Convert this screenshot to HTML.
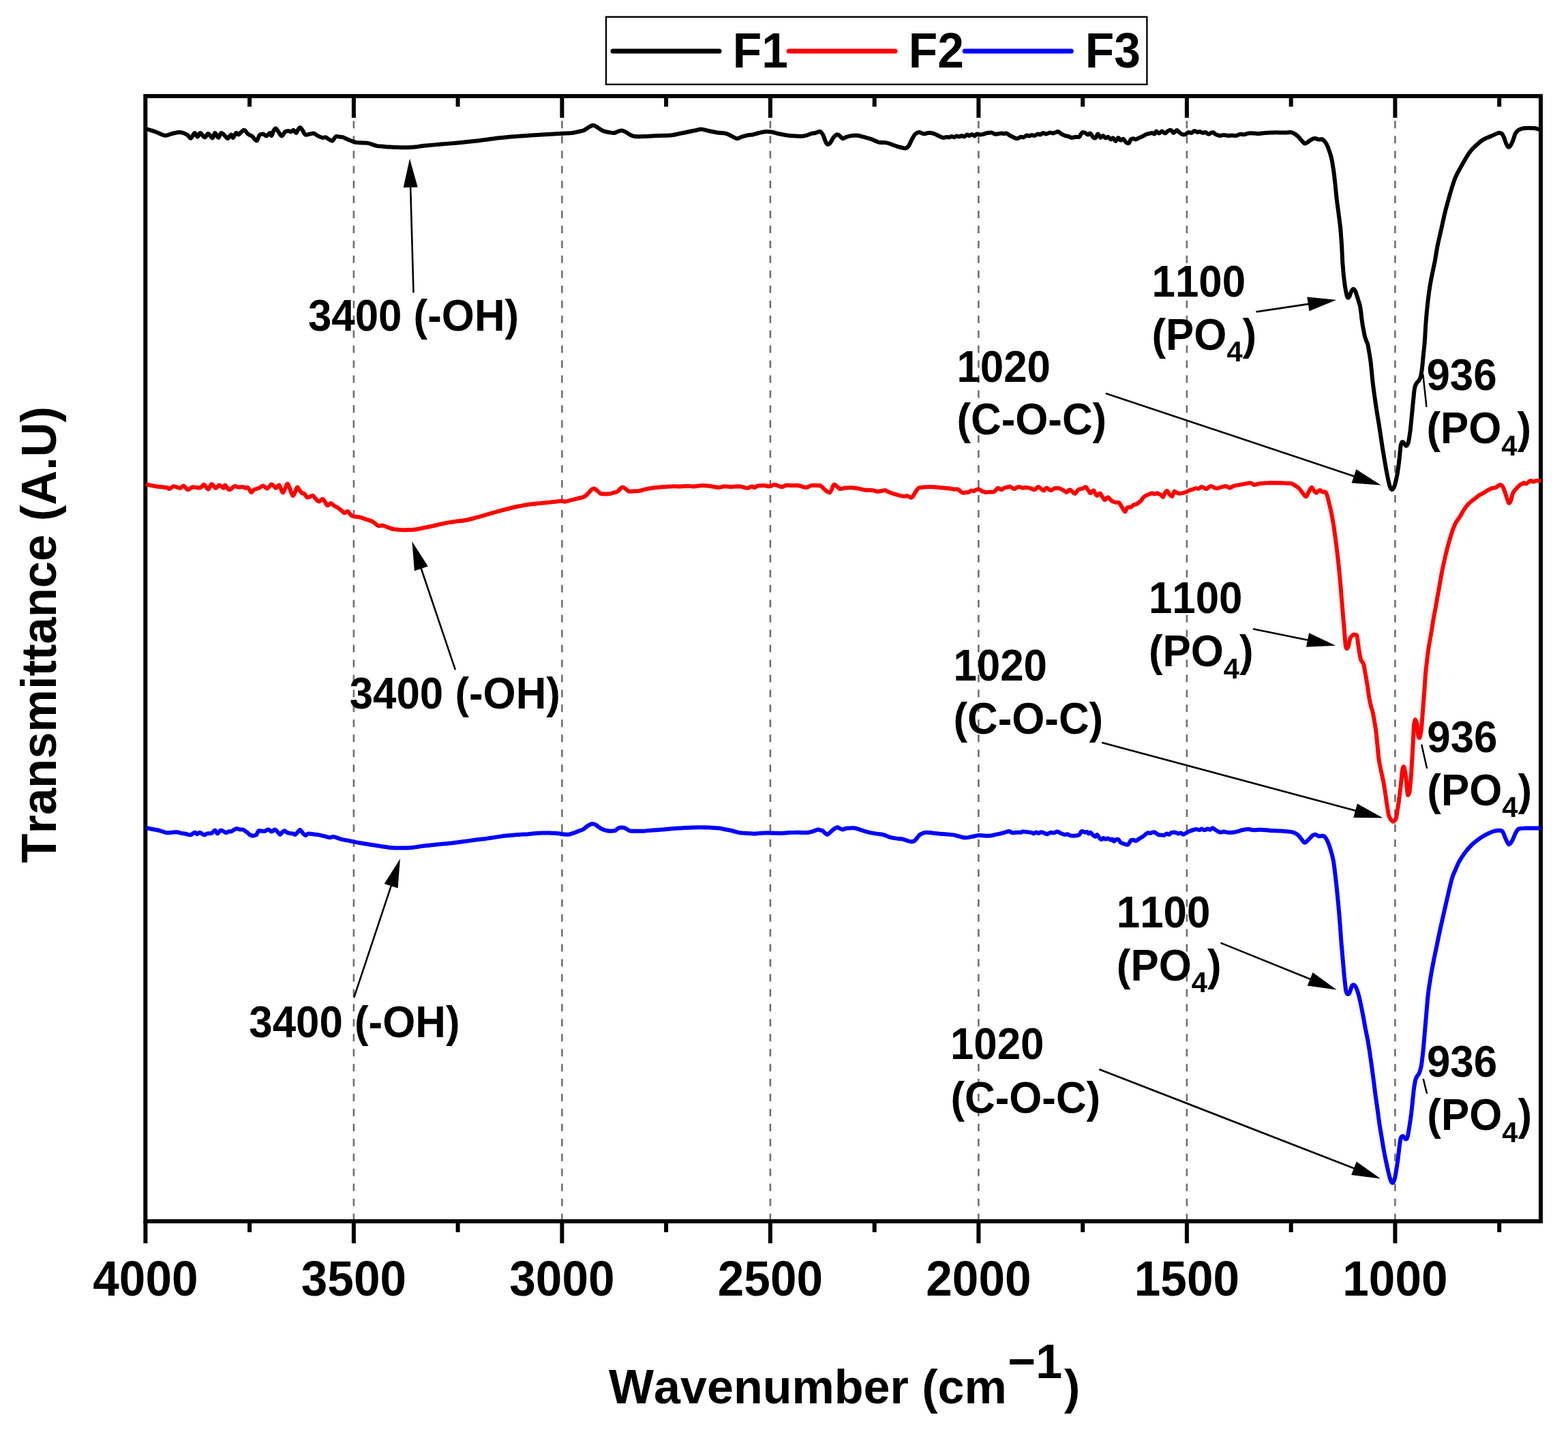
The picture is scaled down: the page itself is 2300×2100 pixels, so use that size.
<!DOCTYPE html>
<html lang="en">
<head>
<meta charset="utf-8">
<title>FTIR spectra F1 F2 F3</title>
<style>
html,body{margin:0;padding:0;background:#fff;}
body{width:2300px;height:2100px;overflow:hidden;}
svg{display:block;}
text{font-family:"Liberation Sans",sans-serif;font-weight:bold;fill:#000;font-kerning:none;font-variant-ligatures:none;}
.tk{font-size:69.3px;text-anchor:middle;}
.an{font-size:61.85px;}
.lg{font-size:69.6px;}
.cv{fill:none;stroke-width:6;stroke-linejoin:round;stroke-linecap:round;}
.gr{stroke:#707070;stroke-width:2.6;stroke-dasharray:11 10.95;fill:none;}
.ax{stroke:#000;stroke-width:6;fill:none;}
</style>
</head>
<body>
<svg width="2300" height="2100" viewBox="0 0 2300 2100">
<rect x="0" y="0" width="2300" height="2100" fill="#fff"/>
<g class="gr">
<line x1="518.9" y1="177.3" x2="518.9" y2="1788"/>
<line x1="824.4" y1="177.3" x2="824.4" y2="1788"/>
<line x1="1129.9" y1="177.3" x2="1129.9" y2="1788"/>
<line x1="1435.4" y1="177.3" x2="1435.4" y2="1788"/>
<line x1="1740.9" y1="177.3" x2="1740.9" y2="1788"/>
<line x1="2046.4" y1="177.3" x2="2046.4" y2="1788"/>
</g>
<g class="ax">
<rect x="213.3" y="140.9" width="2046.7" height="1650.1"/>
<path d="M213.4 1791 V1823.3 M366.1 1791 V1807 M366.1 140.9 V156.4 M518.9 1791 V1823.3 M518.9 140.9 V172.7 M671.6 1791 V1807 M671.6 140.9 V156.4 M824.4 1791 V1823.3 M824.4 140.9 V172.7 M977.1 1791 V1807 M977.1 140.9 V156.4 M1129.9 1791 V1823.3 M1129.9 140.9 V172.7 M1282.7 1791 V1807 M1282.7 140.9 V156.4 M1435.4 1791 V1823.3 M1435.4 140.9 V172.7 M1588.2 1791 V1807 M1588.2 140.9 V156.4 M1740.9 1791 V1823.3 M1740.9 140.9 V172.7 M1893.7 1791 V1807 M1893.7 140.9 V156.4 M2046.4 1791 V1823.3 M2046.4 140.9 V172.7 M2199.2 1791 V1807 M2199.2 140.9 V156.4"/>
</g>
<clipPath id="pc"><rect x="213.3" y="140.9" width="2046.7" height="1650.1"/></clipPath>
<g clip-path="url(#pc)">
<path class="cv" stroke="#000000" d="M216.4 189.5C218.6 190.3 225.5 192.5 229.8 194C234.1 195.5 238.2 198.4 242.2 198.7C246.1 199 249.6 196.5 253.3 195.7C257 194.9 261 193.7 264.5 194C268 194.3 271.8 196 274.4 197.5C277 198.9 278 203.1 279.9 202.7C281.7 202.3 283.9 195.3 285.6 195C287.2 194.6 288.4 200.7 289.8 200.7C291.1 200.7 292 194.9 293.8 195C295.5 195.1 298.5 201.3 300.4 201.4C302.4 201.6 303.5 195.8 305.4 196C307.3 196.1 310 202.6 311.6 202.4C313.3 202.3 313.9 195.1 315.3 195C316.8 194.9 318.8 201.9 320.3 201.9C321.8 201.9 322.9 195.4 324.5 195C326.2 194.6 328.6 198.1 330.2 199.4C331.8 200.8 332.5 203.5 333.9 203.2C335.4 202.8 337.6 197.7 338.9 197.5C340.2 197.3 340.6 202.3 341.9 201.9C343.1 201.5 345 195.7 346.3 195C347.7 194.2 348.7 197.7 350 197.5C351.4 197.2 352.8 194.4 354.3 193.2C355.7 192.1 357.2 190.2 358.7 190.8C360.3 191.3 361.8 194.9 363.7 196.5C365.6 198 367.7 198.3 369.9 199.9C372 201.6 374.8 206.7 376.6 206.4C378.4 206.1 379 199.9 380.6 198.2C382.1 196.6 384.3 196.3 386 196.5C387.7 196.7 389.3 199.7 391 199.4C392.6 199.2 394.7 195.1 395.9 195C397.2 194.9 397.5 199.5 398.4 198.9C399.3 198.4 400.4 193.3 401.4 191.5C402.4 189.7 403.4 187.9 404.6 188.3C405.9 188.7 407.4 192.1 408.8 194C410.3 195.8 411.7 199.6 413.3 199.4C414.9 199.3 416.6 194.5 418.3 193.2C419.9 192 421.8 192 423.2 192C424.7 192 425.7 193.5 426.9 193.2C428.2 193 429.4 190.5 430.7 190.8C431.9 191.1 433.2 195.2 434.4 195C435.5 194.8 436.6 190.8 437.6 189.5C438.6 188.2 439.5 186.6 440.6 187C441.7 187.5 443.1 190.3 444.3 192C445.5 193.7 446.4 196.7 448 197.5C449.7 198.2 452.1 196.8 454.2 196.5C456.3 196.2 458.3 195.2 460.4 195.7C462.5 196.2 464.6 198.4 466.6 199.4C468.7 200.5 471 201.6 472.8 201.9C474.7 202.3 476.1 201 477.8 201.4C479.4 201.8 481.1 203.6 482.7 204.4C484.4 205.2 486 207.1 487.7 206.4C489.4 205.7 491 201.1 492.7 200.2C494.3 199.2 496 200.5 497.6 200.7C499.3 200.8 500.5 200.6 502.6 201.2C504.6 201.8 507.7 203.5 510 204.4C512.3 205.4 514.2 206.1 516.2 206.9C518.3 207.6 519.9 208.5 522.4 208.9C524.9 209.3 528.2 209.2 531.1 209.4C534 209.5 536.3 209.1 539.8 209.9C543.3 210.6 548.5 213 552.2 213.8C555.9 214.7 558.8 214.5 562.1 214.8C565.4 215.1 568.3 215.4 572 215.6C575.7 215.8 579.9 215.9 584.4 216.1C589 216.2 595.2 216.4 599.3 216.3C603.4 216.2 605.5 216 609.2 215.6C612.9 215.2 615.4 214.5 621.6 213.8C627.8 213.2 638.2 212.3 646.4 211.6C654.7 210.9 662.3 210.2 671.2 209.4C680.2 208.5 691.1 207.4 700 206.4C708.9 205.4 716.9 204.1 724.8 203.2C732.7 202.2 738.9 201.4 747.1 200.7C755.4 199.9 765.7 199.3 774.4 198.7C783.1 198.1 790.9 197.7 799.2 197.2C807.5 196.7 817.4 196.1 824 195.7C830.6 195.4 834.8 195.4 838.9 195C843 194.5 845.9 193.6 848.8 193C851.7 192.4 853.8 192.3 856.2 191.3C858.7 190.2 861.4 187.8 863.7 186.5C866 185.3 868 183.9 869.9 183.8C871.8 183.7 872.4 184.4 874.9 185.8C877.3 187.2 881.7 190.6 884.8 192C887.9 193.4 890.8 193.5 893.5 194C896.1 194.5 898.6 195.2 900.9 195C903.2 194.7 905.2 193.1 907.1 192.5C909 191.9 910.4 191.4 912.1 191.5C913.7 191.6 914.3 191.9 917 193.2C919.7 194.6 924.7 198.3 928.2 199.4C931.7 200.6 934.8 200.1 938.1 200.2C941.4 200.3 943.1 200.1 948 199.9C953 199.7 961.7 199.2 967.9 198.9C974.1 198.7 980.3 198.7 985.2 198.2C990.2 197.7 993.5 196.6 997.6 195.7C1001.8 194.9 1006.3 194 1010 193.2C1013.7 192.5 1016.8 191.9 1019.9 191.3C1023 190.6 1025.3 189.4 1028.6 189.5C1031.9 189.6 1035.9 191.2 1039.8 192C1043.7 192.8 1048 193.9 1052.2 194.5C1056.3 195.1 1061.3 195 1064.6 195.7C1067.9 196.5 1069.3 197.7 1072 198.9C1074.7 200.2 1078 202.9 1080.7 203.2C1083.4 203.5 1085.5 201.5 1088.1 200.7C1090.8 199.9 1094.1 198.7 1096.8 198.2C1099.5 197.7 1101.6 198 1104.3 197.5C1107 196.9 1110.1 195.7 1112.9 195C1115.8 194.3 1118.5 193.5 1121.6 193.2C1124.7 193 1127.8 193 1131.5 193.5C1135.3 194 1139.4 195.6 1143.9 196.5C1148.5 197.4 1153 198.5 1158.8 198.9C1164.6 199.4 1173.3 200 1178.7 199.4C1184 198.9 1188.2 196.5 1191.1 195.7C1194 195 1194.4 195.4 1196 195C1197.6 194.6 1199.2 193.7 1200.5 193.4C1201.8 193.1 1202.6 192.4 1203.7 193.2C1204.9 194 1206.2 195.7 1207.4 198.2C1208.7 200.7 1210 205.9 1211.2 208.1C1212.3 210.4 1213.3 211.6 1214.4 211.8C1215.5 212.1 1216.5 211 1217.9 209.4C1219.2 207.7 1221 203.8 1222.3 201.9C1223.7 200.1 1224.9 198.9 1226 198.2C1227.2 197.5 1228.1 197.1 1229.3 197.5C1230.4 197.8 1231.6 199.2 1232.7 200.2C1233.9 201.1 1234.4 203.1 1236 203.2C1237.5 203.2 1239.9 201.4 1242.2 200.7C1244.4 200 1246.9 199.3 1249.6 198.9C1252.3 198.6 1255.4 198.4 1258.3 198.7C1261.2 199 1263.9 200.1 1267 200.9C1270.1 201.8 1273.2 202.4 1276.9 203.7C1280.6 204.9 1285.4 207.7 1289.3 208.6C1293.2 209.6 1297.1 208.7 1300.4 209.4C1303.8 210 1306.4 211.4 1309.1 212.3C1311.8 213.3 1314.1 214.1 1316.6 214.8C1319 215.6 1322 216.4 1324 216.8C1326 217.2 1327 217.7 1328.5 217.3C1329.9 216.9 1331.2 216.5 1332.7 214.3C1334.2 212.2 1336 207.4 1337.6 204.4C1339.3 201.4 1340.9 198.2 1342.6 196.5C1344.3 194.7 1346.4 194.2 1348.1 194C1349.7 193.8 1351.2 195.1 1352.5 195.5C1353.9 195.8 1354.8 196.3 1356.2 196.2C1357.7 196.1 1359.6 195.2 1361.2 195C1362.9 194.8 1364.5 194.7 1366.2 195C1367.8 195.2 1369.3 195.7 1371.1 196.5C1373 197.2 1375.3 198.5 1377.3 199.4C1379.4 200.4 1381.7 201.7 1383.5 201.9C1385.4 202.2 1387 201 1388.5 200.9C1389.9 200.8 1391 201.6 1392.2 201.4C1393.5 201.3 1394.7 200 1395.9 199.9C1397.2 199.9 1398.4 201.3 1399.7 201.2C1400.9 201.1 1402.1 199.6 1403.4 199.4C1404.6 199.3 1405.9 200.5 1407.1 200.4C1408.3 200.4 1409.6 198.9 1410.8 198.9C1412.1 198.9 1413.3 200.7 1414.5 200.4C1415.8 200.2 1417 197.7 1418.3 197.5C1419.5 197.2 1420.7 199 1422 198.9C1423.2 198.9 1424.5 196.9 1425.7 197C1426.9 197 1428.2 199.5 1429.4 199.4C1430.7 199.4 1431.7 196.8 1433.1 196.5C1434.6 196.1 1436.4 197.5 1438.1 197.5C1439.7 197.5 1441.4 196.9 1443.1 196.5C1444.7 196.1 1446.2 195.3 1448 195C1449.9 194.6 1452.4 194.2 1454.2 194.5C1456.1 194.7 1457.7 196.1 1459.2 196.5C1460.6 196.8 1461.5 196.6 1462.9 196.5C1464.3 196.3 1466.2 195.6 1467.9 195.5C1469.5 195.4 1471.4 196 1472.8 196C1474.3 196 1475.1 195 1476.5 195.5C1478 196 1479.6 197.9 1481.5 198.9C1483.4 200 1485.8 201.2 1487.7 201.9C1489.6 202.6 1491 203.4 1492.7 203.2C1494.3 203 1496.2 201 1497.6 200.7C1499.1 200.4 1499.9 201.8 1501.3 201.4C1502.8 201.1 1504.9 198.8 1506.3 198.5C1507.7 198.1 1508.8 199.5 1510 199.4C1511.3 199.4 1512.5 198 1513.7 198C1515 197.9 1516 199.2 1517.5 198.9C1518.9 198.7 1521 196.7 1522.4 196.5C1523.9 196.2 1524.9 197.7 1526.1 197.5C1527.4 197.2 1528.4 195.1 1529.9 195C1531.3 194.8 1533.2 196.6 1534.8 196.5C1536.5 196.4 1538.1 194.6 1539.8 194.5C1541.4 194.3 1543.3 195.6 1544.7 195.5C1546.2 195.4 1547.2 194.4 1548.5 194C1549.7 193.6 1550.7 192.8 1552.2 193.2C1553.6 193.7 1555.5 195.5 1557.1 196.5C1558.8 197.4 1560.4 198.4 1562.1 198.9C1563.8 199.5 1565.4 199.4 1567.1 199.9C1568.7 200.4 1570.4 201.8 1572 201.9C1573.7 202.1 1575.1 201.1 1577 200.9C1578.8 200.7 1581.7 201.4 1583.2 200.7C1584.6 199.9 1584.8 197.6 1585.7 196.5C1586.5 195.4 1587.1 194.2 1588.1 194C1589.2 193.7 1590.6 194.4 1591.9 195C1593.1 195.6 1594.3 197.4 1595.6 197.5C1596.8 197.5 1598.1 194.9 1599.3 195.5C1600.5 196 1601.8 199.5 1603 200.7C1604.3 201.8 1605.5 203.1 1606.7 202.4C1608 201.7 1609.2 196.6 1610.5 196.5C1611.7 196.4 1612.9 201.5 1614.2 201.9C1615.4 202.3 1616.7 198.9 1617.9 198.9C1619.1 199 1620.4 202.1 1621.6 202.4C1622.9 202.7 1624.1 200.4 1625.3 200.7C1626.6 201 1627.8 204.1 1629.1 204.4C1630.3 204.7 1631.5 202 1632.8 202.4C1634 202.8 1635.3 207 1636.5 206.9C1637.7 206.8 1639 202.1 1640.2 201.9C1641.5 201.7 1642.7 205.3 1643.9 205.6C1645.2 206 1646.3 203.4 1647.7 203.9C1649 204.4 1650.5 207.9 1651.9 208.9C1653.2 209.9 1654.7 210.6 1655.9 209.9C1657 209.1 1657.7 205.5 1658.8 204.4C1659.9 203.3 1661.3 203.2 1662.5 203.2C1663.8 203.2 1664.8 204.6 1666.3 204.4C1667.7 204.2 1669.6 202.7 1671.2 201.9C1672.9 201.2 1674.5 200.8 1676.2 199.9C1677.8 199.1 1679.5 197.7 1681.2 197C1682.8 196.3 1684.7 196.1 1686.1 195.7C1687.6 195.4 1688.6 194.9 1689.8 195C1691.1 195.1 1692.5 196.9 1693.6 196.5C1694.6 196.1 1695 192.7 1696 192.5C1697.1 192.3 1698.6 195.5 1700 195.5C1701.4 195.5 1703 192.5 1704.5 192.5C1706 192.5 1707.4 195.6 1708.9 195.5C1710.4 195.4 1711.9 192.6 1713.4 191.9C1714.9 191.2 1716.5 190.5 1717.9 191C1719.2 191.5 1720 194.9 1721.4 194.9C1722.8 194.9 1724.8 191.2 1726.2 191C1727.6 190.9 1728.4 193 1729.8 194C1731.1 195 1732.7 196.5 1734.2 197C1735.7 197.5 1737.2 197.5 1738.7 197C1740.2 196.5 1741.7 194.3 1743.2 194C1744.6 193.6 1746.1 195.2 1747.6 194.9C1749.1 194.5 1750.6 192.1 1752.1 191.9C1753.6 191.8 1755.3 193.8 1756.5 194C1757.8 194.2 1758.3 192.9 1759.5 193.1C1760.8 193.2 1762.5 194.7 1764 194.9C1765.5 195 1767 193.7 1768.5 194C1769.9 194.3 1771.2 196.7 1772.9 196.7C1774.7 196.7 1777.1 193.9 1778.9 194C1780.6 194 1781.6 196.1 1783.3 197C1785.1 197.8 1787.3 198.9 1789.3 199C1791.3 199.2 1793.3 197.9 1795.2 197.9C1797.2 197.9 1799.2 198.9 1801.2 199C1803.2 199.1 1805.2 198.5 1807.1 198.5C1809.1 198.5 1811.1 199.3 1813.1 199C1815.1 198.8 1817.1 197 1819 196.7C1821 196.4 1823 197.5 1825 197.3C1827 197.1 1828.5 195.8 1831 195.5C1833.4 195.2 1837.4 195.4 1839.9 195.5C1842.4 195.6 1843.4 196.2 1845.8 196.1C1848.3 196 1851.8 195.1 1854.8 194.9C1857.7 194.6 1860.7 194.7 1863.7 194.6C1866.7 194.5 1869.6 194.3 1872.6 194.3C1875.6 194.3 1878.8 194.6 1881.5 194.6C1884.3 194.6 1887 194.4 1889 194.3C1891 194.2 1891.8 193.7 1893.5 194C1895.1 194.3 1897.1 195.1 1898.8 196.1C1900.5 197.1 1902.3 198.5 1903.9 199.9C1905.5 201.4 1906.7 203.3 1908.3 205C1910 206.7 1912.1 209.8 1913.7 210.4C1915.3 211 1916.5 209.3 1917.9 208.6C1919.2 207.8 1920.4 206.7 1921.7 205.9C1923 205 1924.4 204 1925.6 203.5C1926.8 203 1927.8 202.8 1929.2 202.9C1930.5 203.1 1932.2 204.2 1933.6 204.4C1935 204.7 1936.7 204.5 1937.5 204.4C1938.3 204.3 1938 203.7 1938.7 204C1939.4 204.2 1940.8 205 1941.8 206C1942.9 207 1944 208.5 1945 210C1945.9 211.5 1946.7 213.3 1947.5 215C1948.2 216.6 1948.6 217.9 1949.3 220C1950.1 222 1951.1 225 1951.8 227.5C1952.6 230 1953.1 232 1953.7 235C1954.3 237.9 1954.8 241.6 1955.3 244.9C1955.8 248.3 1956.3 250.8 1956.8 254.9C1957.3 259.1 1957.9 264.9 1958.5 269.9C1959 274.9 1959.5 280.3 1960 284.9C1960.4 289.5 1960.9 293.3 1961.4 297.4C1962 301.6 1962.5 305.7 1963.1 309.9C1963.6 314.1 1964.2 318.2 1964.7 322.4C1965.2 326.6 1965.8 330.7 1966.2 334.9C1966.6 339.1 1966.9 343.2 1967.2 347.4C1967.5 351.5 1967.8 355.7 1968.1 359.9C1968.3 364 1968.5 368.2 1968.7 372.4C1968.9 376.5 1968.9 379.6 1969.3 384.9C1969.7 390.1 1970.5 399.3 1970.9 403.7C1971.4 408.1 1971.5 408.5 1971.8 411.2C1972.2 413.9 1972.5 417.2 1972.9 419.9C1973.4 422.7 1973.9 425.1 1974.3 427.4C1974.8 429.7 1975.2 432.2 1975.7 433.7C1976.2 435.2 1976.8 436.4 1977.4 436.6C1978 436.8 1978.7 436 1979.3 434.9C1979.9 433.8 1980.6 431.5 1981.2 429.9C1981.8 428.4 1982.3 426.6 1983.1 425.6C1983.8 424.6 1984.7 423.7 1985.6 423.9C1986.4 424.1 1987.1 424.8 1988.1 426.8C1989 428.9 1990.3 433.6 1991.2 436.2C1992 438.8 1992.4 440.3 1993.1 442.4C1993.7 444.5 1994.4 446 1994.9 448.7C1995.5 451.4 1996 455.5 1996.4 458.7C1996.8 461.8 1997 464.3 1997.4 467.4C1997.8 470.5 1998.4 474.3 1998.9 477.4C1999.4 480.5 2000.1 483.7 2000.5 486.2C2001 488.7 2001.4 490.6 2001.8 492.4C2002.2 494.2 2002.6 495.3 2003 496.8C2003.5 498.2 2004.2 499.8 2004.7 501.1C2005.2 502.5 2005.7 503.2 2006.2 504.9C2006.6 506.6 2006.7 506.7 2007.4 511.1C2008.2 515.5 2009.5 522.7 2010.6 531.2C2011.6 539.8 2012.6 552.1 2013.8 562.5C2015.1 572.9 2016.5 583.3 2018.1 593.7C2019.6 604.1 2021.4 614.5 2023.1 624.9C2024.7 635.3 2026.2 645.7 2027.8 656.2C2029.5 666.6 2031.6 679.1 2033.1 687.4C2034.6 695.7 2035.8 701.5 2036.8 706.1C2037.9 710.7 2038.5 712.9 2039.3 714.9C2040.1 716.8 2041 717.9 2041.8 718C2042.6 718.1 2043.5 716.8 2044.3 715.5C2045.1 714.1 2045.7 712.3 2046.4 709.9C2047.1 707.5 2047.8 703.8 2048.4 701.1C2049 698.4 2049.3 698 2049.9 693.6C2050.6 689.3 2051.7 681.1 2052.4 674.9C2053.2 668.6 2053.8 660.3 2054.3 656.2C2054.8 652 2055 651.3 2055.6 649.9C2056.1 648.6 2056.7 647.9 2057.4 648C2058.2 648.1 2059.2 649.6 2059.9 650.5C2060.7 651.4 2061.3 652.9 2061.8 653.4C2062.3 653.9 2062.6 653.9 2063 653.7C2063.5 653.4 2064.2 652.8 2064.7 651.8C2065.2 650.7 2065.5 650.8 2066.2 647.4C2066.8 644 2067.8 638 2068.7 631.2C2069.5 624.3 2070.4 613.5 2071.2 606.2C2071.9 598.9 2072.4 593.5 2073 587.4C2073.7 581.4 2074.2 574.1 2074.9 570C2075.6 565.8 2076.3 564.5 2077.4 562.5C2078.6 560.4 2080.7 559 2081.8 557.5C2082.8 555.9 2083.1 554.8 2083.7 553.1C2084.2 551.4 2084.5 550.3 2084.9 547.5C2085.4 544.7 2086 540 2086.4 536.2C2086.8 532.5 2087 528.9 2087.4 525C2087.8 521 2088.2 516.7 2088.7 512.5C2089.1 508.3 2089.3 508.3 2089.9 500C2090.5 491.7 2091.1 475.7 2092.4 462.4C2093.6 449.1 2095.4 432.8 2097.4 419.9C2099.4 407 2102.8 392.8 2104.4 384.9C2105.9 376.9 2105.8 376.5 2106.5 372.4C2107.2 368.2 2107.9 364 2108.7 359.9C2109.6 355.7 2110.5 351.5 2111.5 347.4C2112.4 343.2 2113.4 339.1 2114.4 334.9C2115.3 330.7 2116.2 326.6 2117.1 322.4C2118 318.2 2118.9 314.1 2120 309.9C2121 305.7 2122.2 301.6 2123.3 297.4C2124.5 293.3 2125.6 289.1 2126.8 284.9C2128.1 280.8 2129.2 276.6 2130.6 272.4C2131.9 268.3 2133.3 263.8 2135 259.9C2136.6 256 2137.1 255.1 2140.5 249C2143.9 243 2151.1 229.8 2155.4 223.8C2159.6 217.7 2162.3 216 2165.8 212.7C2169.2 209.5 2172.5 206.6 2176.2 204.4C2179.9 202.2 2184.7 200.8 2188.1 199.3C2191.5 197.9 2194.4 196.2 2196.4 195.5C2198.4 194.7 2198.9 194.8 2200 194.9C2201.1 195 2202 195 2203 196.1C2204 197.2 2204.9 198.9 2206 201.4C2207 203.9 2208.4 208.6 2209.5 211C2210.6 213.3 2211.5 215.3 2212.5 215.7C2213.5 216.1 2214.6 215 2215.8 213.3C2216.9 211.7 2218.3 208.6 2219.3 205.9C2220.4 203.2 2221.3 199.2 2222.3 197C2223.3 194.7 2224.1 193.7 2225.3 192.5C2226.5 191.3 2228 190.3 2229.8 189.5C2231.5 188.8 2233.5 188.3 2235.7 188C2237.9 187.7 2240.7 187.7 2243.2 187.7C2245.6 187.7 2248.4 187.7 2250.6 188C2252.8 188.3 2255.1 189 2256.5 189.5C2258 190 2259 190.8 2259.5 191"/>
<path class="cv" stroke="#ff0000" d="M216.4 710.8C217.8 711.1 222.2 712 224.8 712.5C227.4 713 228.9 713.3 232.2 713.7C235.5 714.2 242 714.4 244.6 715C247.3 715.5 246.7 717.3 248.4 717C250 716.7 252.7 713.7 254.6 713.2C256.4 712.8 257.9 714.1 259.5 714.5C261.2 714.9 262.8 716.1 264.5 715.7C266.1 715.4 267.6 712.1 269.4 712.5C271.3 712.9 273.6 717.9 275.6 718.2C277.7 718.5 279.8 715 281.8 714.5C283.9 713.9 286 714.9 288 715C290.1 715.1 292.4 715.7 294.2 715C296.1 714.3 297.3 710.4 299.2 710.8C301.1 711.2 303.5 717.6 305.4 717.5C307.3 717.3 308.5 710.3 310.4 710C312.2 709.7 314.7 715.5 316.6 715.7C318.4 716 319.7 711.5 321.5 711.5C323.4 711.5 326.3 715.7 327.7 715.7C329.2 715.7 328.8 711.1 330.2 711.5C331.7 711.9 334.1 717.9 336.4 718.2C338.7 718.5 341.6 713.9 343.8 713.2C346.1 712.6 348 714.4 350 714.5C352.1 714.6 354.6 713.8 356.2 714C357.9 714.2 358.7 715.6 360 715.7C361.2 715.9 362.2 713.9 363.7 715C365.1 716 367.2 721.4 368.7 721.9C370.1 722.5 371.1 719 372.4 718.2C373.6 717.4 374.6 717.5 376.1 717C377.5 716.4 379.4 715.7 381.1 715C382.7 714.2 384.2 712.3 386 712.5C387.9 712.7 390.1 716.8 392.2 716.5C394.3 716.1 396.3 710.4 398.4 710.3C400.5 710.1 402.8 715.5 404.6 715.7C406.5 715.9 407.8 710.4 409.6 711.5C411.4 712.6 413.2 722.8 415.3 722.4C417.3 722.1 419.6 708.8 422 709.5C424.3 710.3 427.1 726 429.4 726.9C431.7 727.8 434 716.3 435.6 715C437.3 713.7 438.1 717.6 439.3 718.9C440.6 720.3 441.8 722.3 443.1 723.2C444.3 724.1 445.5 723.4 446.8 724.4C448 725.4 449 728.7 450.5 729.4C451.9 730 454 728.5 455.5 728.1C456.9 727.7 457.9 726.3 459.2 726.9C460.5 727.5 461.9 730.4 463.4 731.8C464.8 733.3 466.3 735.6 467.9 735.6C469.4 735.6 471.4 731.8 472.8 731.8C474.3 731.8 475.3 734 476.5 735.6C477.8 737.1 478.8 740.9 480.3 741.3C481.7 741.7 483.6 738 485.2 738C486.9 738.1 488.5 740.7 490.2 741.8C491.8 742.8 493.5 743.2 495.1 744.2C496.8 745.3 498.4 746.6 500.1 748C501.8 749.3 503.4 751.9 505.1 752.2C506.7 752.5 508.6 749.4 510 749.7C511.5 750 512.5 752.9 513.7 754.2C515 755.4 515.8 756.5 517.5 757.1C519.1 757.8 521.6 757.6 523.7 757.9C525.7 758.2 527.4 758.4 529.9 759.1C532.3 759.8 535.6 761.1 538.5 762.1C541.4 763.1 544.5 763.8 547.2 765.3C549.9 766.8 552.6 770.2 554.7 771C556.7 771.9 558 770.5 559.6 770.5C561.3 770.6 562.7 770.9 564.6 771.5C566.4 772.1 568.7 773.3 570.8 774C572.9 774.8 574.7 775.5 577 776C579.3 776.4 581.9 776.5 584.4 776.7C586.9 776.9 589.2 777.2 591.9 777.2C594.6 777.3 597.7 777.1 600.5 777C603.4 776.9 605.7 777 609.2 776.5C612.7 776 617.5 774.8 621.6 774C625.8 773.2 629.9 772.4 634 771.5C638.2 770.6 642.3 769.5 646.4 768.6C650.6 767.6 654.7 766.8 658.8 766.1C663 765.4 667.1 764.9 671.2 764.3C675.4 763.8 678.8 763.8 683.6 762.8C688.4 761.9 695.2 759.9 700 758.6C704.8 757.3 708.3 756.3 712.4 755.2C716.5 754 720.7 752.8 724.8 751.7C728.9 750.5 733.1 749.3 737.2 748.2C741.3 747.1 745.5 746 749.6 745C753.7 744 757.9 743.1 762 742.3C766.1 741.4 770.3 740.6 774.4 740C778.5 739.4 782.7 739 786.8 738.5C790.9 738.1 795.1 737.7 799.2 737.3C803.3 736.9 807.5 736.5 811.6 736.1C815.7 735.6 821.1 734.9 824 734.8C826.9 734.7 826.5 735.9 829 735.6C831.4 735.3 835.6 733.9 838.9 733.1C842.2 732.3 845.7 731.4 848.8 730.6C851.9 729.8 855 729.5 857.5 728.1C860 726.8 862 724.1 863.7 722.4C865.3 720.8 866.3 719.2 867.4 718.2C868.6 717.2 869.6 716.6 870.6 716.5C871.7 716.3 872.5 716.8 873.6 717.5C874.7 718.2 876.1 719.6 877.3 720.7C878.6 721.8 879.2 723.3 881.1 723.9C882.9 724.5 886 724.4 888.5 724.4C891 724.4 893.9 724.2 895.9 723.9C898 723.6 899.2 723 900.9 722.4C902.5 721.9 904.4 721.6 905.9 720.7C907.3 719.8 908.3 718 909.6 717C910.8 715.9 912.1 714.6 913.3 714.5C914.5 714.4 915.8 715.6 917 716.5C918.3 717.3 919.7 718.7 920.7 719.4C921.8 720.1 921.6 720.6 923.2 720.7C924.9 720.8 928.2 720.3 930.7 720.2C933.1 720.1 935.6 720.4 938.1 719.9C940.6 719.5 943.1 718.3 945.5 717.7C948 717.1 949.3 716.8 953 716.2C956.7 715.7 962.5 715 967.9 714.5C973.2 714 980.3 713.4 985.2 713.2C990.2 713.1 993.5 713.6 997.6 713.5C1001.8 713.4 1006.7 712.7 1010 712.7C1013.3 712.7 1014.2 713.6 1017.5 713.5C1020.8 713.4 1025.7 712.1 1029.9 712C1034 711.9 1038.1 712.5 1042.3 713C1046.4 713.5 1051.4 714.9 1054.7 715C1058 715 1059.2 713.4 1062.1 713.2C1065 713.1 1068.3 714 1072 714C1075.7 714 1081.3 713.2 1084.4 713.2C1087.5 713.3 1088.6 714.1 1090.6 714.5C1092.7 714.9 1094.8 715.9 1096.8 715.7C1098.9 715.5 1101.4 713.4 1103 713.2C1104.7 713.1 1105.3 715.1 1106.7 715C1108.2 714.9 1109.2 713 1111.7 712.5C1114.2 712 1119.1 711.9 1121.6 712C1124.1 712.1 1124.9 713.2 1126.6 713.2C1128.2 713.3 1129.9 712.9 1131.5 712.5C1133.2 712.1 1134 710.5 1136.5 710.8C1139 711 1143.5 713.9 1146.4 714C1149.3 714.1 1151.2 711.8 1153.9 711.5C1156.6 711.2 1159.7 711.9 1162.5 712C1165.4 712.1 1167.9 711.5 1171.2 712C1174.5 712.5 1179.3 715 1182.4 715C1185.5 715 1186.9 712.5 1189.8 712C1192.8 711.5 1197.7 711.9 1200 712C1202.3 712.1 1202.5 711.9 1203.7 712.5C1205 713.1 1206 714.4 1207.4 715.7C1208.9 717 1210.8 719.1 1212.4 720.2C1214 721.3 1215.6 722.8 1216.9 722.4C1218.1 722.1 1218.9 719.9 1219.8 718.2C1220.8 716.5 1221.5 713.2 1222.3 712C1223.1 710.8 1223.8 710.4 1224.8 710.8C1225.8 711.1 1227.3 713 1228.5 714C1229.8 715 1230.4 716.7 1232.2 717C1234.1 717.2 1236.8 715.8 1239.7 715.5C1242.6 715.2 1246.3 715.1 1249.6 715.2C1252.9 715.4 1256.2 715.9 1259.5 716.5C1262.8 717 1266.1 718.3 1269.4 718.7C1272.8 719.1 1276.5 718.6 1279.4 718.9C1282.3 719.3 1284.5 720.5 1286.8 720.7C1289.1 720.8 1291.1 720.2 1293 719.9C1294.9 719.7 1296.5 718.8 1298 718.9C1299.4 719.1 1300.2 720.1 1301.7 720.7C1303.1 721.3 1304.4 721.9 1306.6 722.7C1308.9 723.5 1312.4 724.6 1315.3 725.4C1318.2 726.2 1321.3 727.3 1324 727.6C1326.7 728 1329.4 727 1331.4 727.4C1333.5 727.8 1335.1 729.9 1336.4 729.9C1337.7 729.9 1338.4 728.7 1339.4 727.4C1340.4 726.1 1341.5 723.6 1342.6 721.9C1343.7 720.3 1344.8 718.6 1345.8 717.5C1346.9 716.3 1347.3 715.7 1348.8 715.2C1350.3 714.7 1352.9 714.7 1355 714.5C1357.1 714.3 1358.5 714 1361.2 714C1363.9 713.9 1367.8 714 1371.1 714.2C1374.4 714.4 1377.5 714.9 1381.1 715.2C1384.6 715.6 1389.3 715.8 1392.2 716.2C1395.1 716.6 1396.3 717.3 1398.4 717.5C1400.5 717.7 1403 717 1404.6 717.5C1406.3 717.9 1407.1 719.1 1408.3 719.9C1409.6 720.8 1410.6 722.3 1412.1 722.7C1413.5 723 1415.6 722 1417 721.9C1418.5 721.8 1419.5 722.3 1420.7 721.9C1422 721.5 1423.2 719.7 1424.5 719.4C1425.7 719.2 1426.9 720.6 1428.2 720.4C1429.4 720.2 1430.7 718.7 1431.9 718.2C1433.1 717.7 1434.2 717.1 1435.6 717.5C1437.1 717.8 1438.9 719.4 1440.6 720.2C1442.2 720.9 1443.7 721.7 1445.5 721.9C1447.4 722.1 1449.7 721.6 1451.7 721.4C1453.8 721.3 1456.3 721.8 1457.9 721.2C1459.6 720.5 1460.6 718.4 1461.7 717.5C1462.7 716.6 1462.9 715.6 1464.1 715.7C1465.4 715.8 1467.7 718.2 1469.1 718.2C1470.5 718.2 1471.4 716.3 1472.8 715.7C1474.3 715.1 1476.3 714.8 1477.8 714.5C1479.2 714.2 1479.8 713.3 1481.5 713.7C1483.2 714.2 1486 716.8 1487.7 717C1489.4 717.2 1490.2 715.5 1491.4 715C1492.7 714.5 1493.7 713.9 1495.1 714C1496.6 714.1 1498.4 715.3 1500.1 715.5C1501.8 715.6 1503.2 714.9 1505.1 715C1506.9 715.1 1509.2 715.4 1511.3 716C1513.3 716.5 1515.8 718.4 1517.5 718.2C1519.1 718 1520.1 715.7 1521.2 715C1522.2 714.3 1522.6 713.7 1523.7 714C1524.7 714.3 1526.1 716.1 1527.4 717C1528.6 717.9 1530.1 719.5 1531.1 719.4C1532.1 719.4 1532.8 717.1 1533.6 716.5C1534.4 715.8 1535.1 715.4 1536.1 715.7C1537 716 1538.3 717.7 1539.3 718.2C1540.3 718.7 1541.1 719.2 1542.3 718.9C1543.4 718.7 1544.7 717 1546 716.5C1547.2 715.9 1548.3 715.7 1549.7 715.7C1551.1 715.7 1553 715.9 1554.7 716.5C1556.3 717 1558 718 1559.6 718.9C1561.3 719.9 1563.3 721.8 1564.6 721.9C1565.8 722 1566.2 720.1 1567.1 719.4C1567.9 718.8 1568.5 717.9 1569.5 718.2C1570.6 718.5 1572 720.5 1573.3 721.4C1574.5 722.4 1575.9 724.2 1577 723.9C1578.1 723.7 1578.9 721 1580 719.9C1581 718.9 1581.8 718 1583.2 717.5C1584.5 716.9 1586.6 717 1588.1 716.5C1589.7 715.9 1591.3 713.6 1592.6 714C1593.9 714.4 1595 717.4 1596.1 718.9C1597.2 720.5 1598.4 722.9 1599.3 723.2C1600.3 723.5 1601 721.3 1601.8 720.7C1602.6 720.1 1603.4 718.9 1604.3 719.4C1605.1 720 1605.9 722.7 1606.7 723.9C1607.6 725.1 1608.4 726.8 1609.2 726.9C1610.1 727 1610.9 724.9 1611.7 724.4C1612.5 723.9 1613.3 723.2 1614.2 723.9C1615.1 724.7 1616.1 727.3 1617.2 728.9C1618.2 730.4 1619.4 732.8 1620.4 733.1C1621.3 733.4 1622 731.2 1622.9 730.6C1623.7 730 1624.3 729 1625.3 729.4C1626.4 729.8 1627.8 732.1 1629.1 733.1C1630.3 734.1 1631.5 734.9 1632.8 735.6C1634 736.2 1635.1 736.5 1636.5 736.8C1638 737.1 1640 736.3 1641.5 737.3C1642.9 738.3 1643.7 740.8 1645.2 743C1646.6 745.2 1649 749.8 1650.1 750.4C1651.3 751.1 1651.3 747.8 1651.9 746.7C1652.5 745.7 1652.7 744.7 1653.9 744.2C1655 743.8 1657.4 744.4 1658.8 743.8C1660.3 743.1 1661.3 741.2 1662.5 740.5C1663.8 739.9 1665 740.3 1666.3 739.8C1667.5 739.2 1668.8 738.2 1670 737.3C1671.2 736.4 1672.7 735.4 1673.7 734.3C1674.7 733.2 1675.4 731.6 1676.2 730.6C1677 729.6 1677.4 729 1678.7 728.1C1679.9 727.3 1681.8 726.5 1683.6 725.6C1685.5 724.8 1688.2 723.4 1689.8 723.2C1691.5 723 1692.3 724.4 1693.6 724.4C1694.8 724.4 1696.2 723.2 1697.3 723.2C1698.3 723.2 1699 724 1700 724.4C1701 724.9 1702 725.1 1703 725.9C1704 726.6 1705 729.4 1706 728.9C1706.9 728.4 1707.9 724.4 1708.9 722.9C1709.9 721.4 1710.8 719.6 1711.9 719.9C1713 720.3 1714.2 723.7 1715.5 725C1716.7 726.3 1718.2 728.7 1719.3 728C1720.5 727.3 1721.2 721.7 1722.3 720.8C1723.5 719.9 1725 722.1 1726.2 722.6C1727.4 723.1 1728.3 723.8 1729.8 723.8C1731.2 723.9 1733.4 723.3 1735.1 722.9C1736.9 722.5 1738.6 722.1 1740.2 721.4C1741.8 720.8 1743.2 719.6 1744.6 719C1746.1 718.5 1747.6 718.4 1749.1 717.9C1750.6 717.4 1752.1 716.3 1753.6 716.1C1755.1 715.9 1756.5 717 1758 716.7C1759.5 716.3 1761.2 714.2 1762.5 714C1763.8 713.8 1764.8 715 1766.1 715.5C1767.3 716 1768.7 717.2 1769.9 717C1771.2 716.7 1772.6 714.6 1773.8 714C1775 713.3 1776 712.8 1777.4 713.1C1778.7 713.3 1780.4 715 1781.8 715.5C1783.3 716 1784.6 716.3 1786.3 716.1C1788 715.8 1790.3 714.5 1792.3 714C1794.2 713.5 1796.2 712.8 1798.2 713.1C1800.2 713.3 1802.4 715.5 1804.2 715.5C1805.9 715.5 1807.1 713.7 1808.6 713.1C1810.1 712.5 1810.6 712.4 1813.1 711.9C1815.6 711.4 1820 710.7 1823.5 710.1C1827 709.5 1831.2 708.2 1833.9 708.3C1836.7 708.5 1837.9 710.8 1839.9 711C1841.9 711.2 1843.4 709.9 1845.8 709.5C1848.3 709.1 1851.8 708.9 1854.8 708.6C1857.7 708.4 1859.7 708.1 1863.7 708C1867.7 708 1873.6 708.2 1878.6 708.3C1883.5 708.5 1890 708.3 1893.5 708.9C1896.9 709.5 1897.4 710.7 1899.4 711.9C1901.4 713.1 1903.5 714.2 1905.4 716.1C1907.2 717.9 1909 720.9 1910.7 722.9C1912.5 725 1914.3 728.5 1915.8 728.3C1917.3 728 1918.3 723.7 1919.6 721.4C1921 719.2 1922.6 715.3 1923.8 714.9C1925 714.5 1925.9 717.7 1927.1 719C1928.2 720.4 1929.6 722.7 1930.7 722.9C1931.7 723.1 1932.6 720.9 1933.6 720.2C1934.6 719.6 1935.6 718.8 1936.6 719C1937.6 719.2 1938.3 721 1939.6 721.4C1940.8 721.8 1942.9 720.7 1944 721.4C1945.2 722.2 1945.7 723.9 1946.4 725.9C1947.2 727.9 1947.5 729.4 1948.5 733.3C1949.5 737.3 1951.1 743.8 1952.4 749.7C1953.6 755.7 1954.9 762.4 1956 769C1957 775.7 1957.9 782.4 1958.9 789.9C1959.9 797.3 1961 806 1961.9 813.7C1962.8 821.4 1963.5 828.6 1964.3 836C1965 843.5 1965.6 849.7 1966.4 858.3C1967.1 867 1967.8 877 1968.8 888.1C1969.7 899.2 1971.1 915.3 1972 925C1972.8 934.6 1973.1 941.8 1973.7 946.2C1974.3 950.6 1974.7 951 1975.5 951.2C1976.2 951.4 1977.1 949.9 1978 947.4C1978.8 944.9 1979.5 938.8 1980.4 936.2C1981.4 933.6 1982.7 932.9 1983.7 931.9C1984.7 931 1985.4 930.6 1986.2 930.4C1987 930.3 1988 930.6 1988.7 930.9C1989.4 931.3 1989.9 930.5 1990.4 932.4C1991 934.4 1991.4 938.7 1991.9 942.4C1992.5 946.2 1993 950.8 1993.7 954.9C1994.4 959.1 1995.4 964.7 1996.2 967.4C1997 970.1 1998 969.9 1998.7 971.2C1999.4 972.4 1999.8 972.4 2000.4 974.9C2001.1 977.4 2001.7 982 2002.4 986.2C2003.2 990.3 2003.9 993.5 2004.9 999.9C2006 1006.4 2007.6 1018.9 2008.7 1024.9C2009.7 1030.9 2010.3 1032.8 2011.2 1036.1C2012 1039.5 2012.8 1041.1 2013.7 1044.9C2014.5 1048.6 2015.3 1053.6 2016.2 1058.6C2017 1063.6 2017.9 1068.8 2018.7 1074.9C2019.4 1080.9 2020 1088.6 2020.7 1094.8C2021.3 1101.1 2021.8 1107.5 2022.4 1112.3C2023 1117.1 2023.8 1120.2 2024.4 1123.6C2025 1126.9 2025.5 1129.4 2026.2 1132.3C2026.8 1135.2 2027.5 1138.2 2028.2 1141.1C2028.8 1144 2029.3 1146.3 2029.9 1149.8C2030.5 1153.4 2031.3 1158.1 2031.9 1162.3C2032.5 1166.5 2033.1 1170.8 2033.7 1174.8C2034.2 1178.8 2034.9 1182.7 2035.4 1186C2036 1189.4 2036.4 1192.6 2036.9 1194.8C2037.5 1197 2038.1 1198 2038.7 1199.3C2039.2 1200.5 2039.8 1201.5 2040.4 1202.3C2041 1203.1 2041.8 1203.6 2042.4 1204C2043 1204.4 2043.5 1205 2044.2 1204.8C2044.8 1204.6 2045.5 1203.6 2046.2 1202.8C2046.8 1201.9 2047.4 1201.7 2047.9 1199.8C2048.4 1197.8 2048.9 1194.4 2049.4 1191C2049.9 1187.7 2050.5 1184.2 2051.2 1179.8C2051.8 1175.4 2052.5 1169.8 2053.2 1164.8C2053.8 1159.8 2054.4 1154.8 2054.9 1149.8C2055.4 1144.8 2056 1138.6 2056.4 1134.8C2056.8 1131.1 2057.1 1129 2057.4 1127.3C2057.7 1125.7 2058.1 1125.2 2058.4 1124.8C2058.7 1124.4 2059 1124 2059.4 1124.8C2059.8 1125.7 2060.2 1127.7 2060.6 1129.8C2061.1 1131.9 2061.4 1133.6 2061.9 1137.3C2062.4 1141.1 2062.9 1147.6 2063.4 1152.3C2063.9 1157 2064.4 1163.2 2064.9 1165.3C2065.4 1167.4 2065.7 1165.3 2066.1 1164.8C2066.6 1164.3 2067 1164.6 2067.4 1162.3C2067.8 1160 2068.2 1155.2 2068.6 1151.1C2069.1 1146.9 2069.5 1142.9 2069.9 1137.3C2070.3 1131.7 2070.7 1124.4 2071.1 1117.3C2071.6 1110.3 2072 1101.9 2072.4 1094.8C2072.8 1087.8 2073.1 1080.3 2073.4 1074.9C2073.7 1069.4 2073.8 1065.3 2074.1 1062.4C2074.4 1059.5 2074.8 1058.5 2075.1 1057.4C2075.5 1056.2 2075.8 1055.3 2076.1 1055.4C2076.5 1055.5 2077 1056.7 2077.4 1057.9C2077.8 1059 2078.3 1060 2078.6 1062.4C2079 1064.8 2079.3 1069.4 2079.6 1072.4C2079.9 1075.3 2080.1 1078.4 2080.4 1079.9C2080.7 1081.4 2081.1 1081 2081.4 1081.4C2081.7 1081.7 2082 1082.5 2082.4 1081.9C2082.8 1081.2 2083.2 1079.4 2083.6 1077.4C2084.1 1075.4 2084.5 1073.6 2084.9 1069.9C2085.3 1066.1 2085.7 1060.3 2086.1 1054.9C2086.6 1049.5 2086.8 1044.5 2087.4 1037.4C2087.9 1030.3 2088.8 1020.7 2089.4 1012.4C2090 1004.1 2090.5 994.3 2091.1 987.4C2091.7 980.5 2092.3 976.6 2092.9 971.2C2093.5 965.8 2094.1 960.2 2094.9 954.9C2095.6 949.6 2096.5 944.4 2097.4 939.4C2098.2 934.4 2098.9 930.7 2099.9 925C2100.8 919.2 2102.2 910.3 2103.1 904.9C2104.1 899.4 2104.8 896.5 2105.6 892.4C2106.4 888.2 2107 884 2107.7 879.9C2108.5 875.7 2109.2 871.5 2110 867.4C2110.7 863.2 2111.5 859.1 2112.2 854.9C2113 850.7 2113.6 846.6 2114.4 842.4C2115.1 838.2 2116 834.1 2116.9 829.9C2117.7 825.7 2118.7 821.6 2119.7 817.4C2120.7 813.3 2121.6 809.1 2122.7 804.9C2123.8 800.8 2125 796.6 2126.2 792.4C2127.4 788.3 2128.5 784.1 2130 779.9C2131.4 775.8 2133.1 771.1 2135 767.4C2136.8 763.8 2139.1 761.4 2141.2 758.1C2143.3 754.7 2145.4 750.6 2147.5 747.5C2149.5 744.3 2151.6 741.6 2153.7 739.3C2155.8 737 2158.4 735 2160 733.7C2161.5 732.5 2161.1 733.1 2162.8 731.8C2164.5 730.5 2168 727.4 2170.2 725.9C2172.5 724.4 2174.2 724.1 2176.2 722.9C2178.2 721.8 2180.2 720.2 2182.1 719C2184.1 717.9 2186.1 716.8 2188.1 716.1C2190.1 715.4 2192.5 715.5 2194 714.9C2195.6 714.3 2196.4 713.1 2197.6 712.5C2198.9 711.9 2200.3 710.8 2201.5 711C2202.6 711.3 2203.5 712.3 2204.5 714C2205.5 715.7 2206.4 718.7 2207.4 721.4C2208.4 724.2 2209.4 727.6 2210.4 730.4C2211.4 733.1 2212.4 737.3 2213.4 737.8C2214.4 738.3 2215.4 735.8 2216.4 733.3C2217.4 730.9 2218.1 725.6 2219.3 722.9C2220.6 720.2 2222.1 718.9 2223.8 717C2225.5 715 2228.3 712.3 2229.8 711C2231.2 709.8 2231.7 710 2232.7 709.5C2233.7 709 2234.7 708 2235.7 708C2236.7 708 2237.2 710 2238.7 709.5C2240.2 709 2242.9 705.6 2244.6 705.1C2246.4 704.6 2247.6 706.5 2249.1 706.5C2250.6 706.5 2251.8 705.3 2253.6 705.1C2255.3 704.8 2258.5 705.1 2259.5 705.1"/>
<path class="cv" stroke="#0000ff" d="M216.4 1214.5C217.8 1214.8 222.2 1215.7 224.8 1216.2C227.4 1216.7 230 1216.9 232.2 1217.5C234.5 1218 236.4 1218.8 238.4 1219.4C240.5 1220.1 242.4 1221 244.6 1221.2C246.9 1221.4 249.6 1220.8 252.1 1220.7C254.6 1220.5 257.3 1220 259.5 1220.2C261.8 1220.4 263.7 1221.5 265.7 1221.9C267.8 1222.3 269.7 1222.3 271.9 1222.7C274.2 1223.1 277.1 1224.7 279.4 1224.4C281.6 1224.1 283.9 1220.9 285.6 1220.7C287.2 1220.5 288 1223.2 289.3 1223.2C290.5 1223.2 291.4 1220.5 293 1220.7C294.7 1220.9 297.3 1224.1 299.2 1224.4C301.1 1224.7 302.3 1222.8 304.2 1222.4C306 1222 308.5 1222.8 310.4 1221.9C312.2 1221.1 313.9 1217.4 315.3 1217.5C316.8 1217.5 317.6 1222.4 319 1222.4C320.5 1222.4 321.9 1217.7 324 1217.5C326.1 1217.3 329.6 1220.8 331.4 1221.2C333.3 1221.5 333.9 1219.7 335.2 1219.4C336.4 1219.2 337.4 1219.9 338.9 1219.4C340.3 1218.9 342.4 1217.2 343.8 1216.5C345.3 1215.8 346.2 1215.2 347.6 1215.2C348.9 1215.2 350.3 1216.3 351.8 1216.5C353.2 1216.7 354.9 1216.1 356.2 1216.5C357.6 1216.9 358.9 1218.2 360 1218.9C361 1219.7 361.4 1219.9 362.5 1220.7C363.5 1221.5 364.9 1223.1 366.2 1223.9C367.4 1224.7 368.7 1225.4 369.9 1225.6C371.1 1225.9 372.6 1225.4 373.6 1225.1C374.6 1224.9 375.3 1225.2 376.1 1224.4C376.8 1223.6 377.5 1221.2 378.1 1220.2C378.7 1219.2 378.7 1218.5 379.8 1218.2C380.9 1218 383.3 1218.6 384.8 1218.7C386.2 1218.8 387 1219.3 388.5 1218.9C389.9 1218.6 391.8 1216.4 393.5 1216.5C395.1 1216.6 396.8 1219.4 398.4 1219.4C400.1 1219.4 401.9 1216.4 403.4 1216.5C404.8 1216.6 405.9 1218.7 407.1 1219.9C408.3 1221.2 409.7 1223.8 410.8 1223.9C411.9 1224 412.8 1221.6 413.8 1220.7C414.8 1219.7 415.9 1218.2 417 1218.2C418.2 1218.2 419.5 1220.1 420.7 1220.7C422 1221.3 423 1221.6 424.5 1221.9C425.9 1222.2 428 1222.1 429.4 1222.4C430.9 1222.8 431.9 1224.3 433.1 1223.9C434.4 1223.5 435.7 1221.1 436.9 1219.9C438 1218.8 438.8 1216.6 440.1 1217C441.3 1217.3 443 1220.6 444.3 1221.9C445.6 1223.3 447 1224.9 448 1225.1C449 1225.4 449.7 1223.9 450.5 1223.4C451.3 1223 451.3 1222.4 453 1222.4C454.6 1222.4 457.9 1223.1 460.4 1223.4C462.9 1223.7 465.4 1224 467.9 1224.4C470.3 1224.9 472.8 1225.5 475.3 1226.1C477.8 1226.8 481 1227.8 482.7 1228.1C484.5 1228.4 484.7 1228.1 485.7 1227.9C486.7 1227.7 487.4 1226.7 488.9 1226.9C490.5 1227.1 493.3 1228.2 495.1 1228.9C497 1229.5 497.4 1229.9 500.1 1230.6C502.8 1231.3 507.5 1232.1 511.3 1232.8C515 1233.6 518.5 1234.3 522.4 1235.1C526.3 1235.8 530.7 1236.6 534.8 1237.3C539 1238 543.1 1238.6 547.2 1239.3C551.4 1239.9 555.5 1240.6 559.6 1241.3C563.8 1241.9 568.7 1242.6 572 1243C575.3 1243.4 577 1243.4 579.5 1243.5C581.9 1243.6 584 1243.5 586.9 1243.5C589.8 1243.5 593.9 1243.6 596.8 1243.5C599.7 1243.4 601.6 1243.3 604.3 1243C607 1242.7 610.1 1242.2 612.9 1241.8C615.8 1241.4 617.1 1241.1 621.6 1240.5C626.2 1240 634 1239.2 640.2 1238.5C646.4 1237.9 652.4 1237.5 658.8 1236.8C665.2 1236.1 671.8 1235.2 678.7 1234.3C685.5 1233.4 694.4 1232.1 700 1231.3C705.6 1230.6 708.3 1230.4 712.4 1229.9C716.5 1229.3 720.7 1228.7 724.8 1228.1C728.9 1227.5 733.1 1226.7 737.2 1226.1C741.3 1225.6 745.5 1225.3 749.6 1224.9C753.7 1224.5 757.9 1224.2 762 1223.9C766.1 1223.6 770.3 1223.5 774.4 1223.2C778.5 1222.8 782.7 1222.2 786.8 1221.9C790.9 1221.6 795.5 1221.5 799.2 1221.4C802.9 1221.4 806.2 1221.6 809.1 1221.7C812 1221.8 813.9 1221.7 816.6 1221.9C819.3 1222.2 822.4 1222.9 825.2 1223.2C828.1 1223.5 831.7 1223.8 833.9 1223.7C836.2 1223.5 837.2 1222.9 838.9 1222.4C840.5 1221.9 842 1221.4 843.8 1220.7C845.7 1220 848 1219 850 1218.2C852.1 1217.4 854.5 1216.8 856.2 1215.7C858 1214.7 859.3 1213 860.7 1212C862.2 1211 863.7 1210.1 864.9 1209.5C866.2 1208.9 867.1 1208.5 868.2 1208.3C869.2 1208.1 870 1208 871.1 1208.3C872.2 1208.6 873.6 1209.4 874.9 1210.3C876.1 1211.1 877.3 1212.4 878.6 1213.2C879.8 1214.1 881.1 1214.9 882.3 1215.5C883.5 1216.1 884.6 1216.5 886 1217C887.5 1217.4 889.3 1217.9 891 1218.2C892.6 1218.5 894.1 1218.7 895.9 1218.7C897.8 1218.7 900.6 1218.7 902.1 1218.2C903.7 1217.7 904.3 1216.4 905.4 1215.7C906.4 1215 907.3 1214.4 908.3 1214C909.3 1213.6 910.3 1213.5 911.3 1213.5C912.3 1213.5 913.5 1213.5 914.5 1213.7C915.6 1214 916.5 1214.4 917.8 1215C919 1215.6 920.7 1216.8 922 1217.5C923.3 1218.1 923.6 1218.5 925.7 1218.7C927.8 1218.9 931.5 1218.7 934.4 1218.7C937.3 1218.7 939.1 1218.9 943.1 1218.7C947 1218.5 953 1217.8 957.9 1217.5C962.9 1217.1 968.3 1216.8 972.8 1216.5C977.4 1216.1 981.1 1215.6 985.2 1215.2C989.4 1214.9 993.1 1214.7 997.6 1214.5C1002.2 1214.2 1007.5 1213.9 1012.5 1213.7C1017.5 1213.5 1022.4 1213.2 1027.4 1213.2C1032.3 1213.2 1037.7 1213.5 1042.3 1213.7C1046.8 1213.9 1051.1 1214.1 1054.7 1214.5C1058.2 1214.9 1060.4 1215.7 1063.3 1216.2C1066.2 1216.8 1069.3 1217.1 1072 1217.7C1074.7 1218.3 1077 1219.3 1079.5 1219.9C1081.9 1220.6 1084 1221.1 1086.9 1221.4C1089.8 1221.8 1093.5 1221.7 1096.8 1221.9C1100.1 1222.1 1103.9 1222.7 1106.7 1222.7C1109.6 1222.7 1111.7 1222.1 1114.2 1221.9C1116.7 1221.7 1118.3 1221.5 1121.6 1221.4C1124.9 1221.4 1129.9 1221.6 1134 1221.7C1138.2 1221.8 1142.7 1222 1146.4 1221.9C1150.1 1221.8 1153 1221.4 1156.3 1221.2C1159.7 1221 1163 1220.7 1166.3 1220.7C1169.6 1220.6 1172.9 1220.9 1176.2 1220.9C1179.5 1220.9 1183.2 1221.1 1186.1 1220.7C1189 1220.3 1191.2 1219.4 1193.6 1218.7C1195.9 1218 1198.4 1216.7 1200 1216.5C1201.6 1216.3 1201.9 1217.2 1203 1217.5C1204 1217.7 1205 1217.5 1206.2 1218.2C1207.4 1218.9 1208.7 1220.5 1209.9 1221.4C1211.2 1222.4 1212.3 1224.1 1213.6 1223.9C1215 1223.7 1216.4 1221.7 1217.9 1220.4C1219.3 1219.2 1221 1217.5 1222.3 1216.5C1223.7 1215.4 1225 1214.5 1226 1214C1227.1 1213.5 1227.5 1213.1 1228.5 1213.2C1229.6 1213.4 1231 1214.4 1232.2 1215C1233.5 1215.5 1234.6 1216.5 1236 1216.5C1237.3 1216.5 1238.7 1215.3 1240.2 1215C1241.6 1214.6 1243.1 1214.6 1244.6 1214.5C1246.2 1214.4 1247.9 1214.2 1249.6 1214.2C1251.3 1214.2 1252.1 1213.9 1254.6 1214.5C1257 1215.1 1261.2 1216.7 1264.5 1217.7C1267.8 1218.7 1271.1 1219.9 1274.4 1220.7C1277.7 1221.5 1281 1221.9 1284.3 1222.4C1287.6 1222.9 1291.6 1223.1 1294.2 1223.7C1296.9 1224.2 1298.4 1225.1 1300.4 1225.9C1302.5 1226.6 1304.2 1227.5 1306.6 1228.1C1309.1 1228.7 1312.4 1229.2 1315.3 1229.6C1318.2 1230 1321.5 1230.1 1324 1230.6C1326.5 1231.1 1328.1 1232 1330.2 1232.6C1332.3 1233.2 1334.5 1234.2 1336.4 1234.3C1338.3 1234.4 1339.9 1234 1341.4 1233.1C1342.8 1232.2 1343.8 1230.3 1345.1 1228.9C1346.3 1227.4 1347.4 1225.6 1348.8 1224.4C1350.3 1223.2 1352.1 1222.5 1353.8 1221.9C1355.4 1221.3 1356.2 1220.7 1358.7 1220.7C1361.2 1220.6 1365.3 1221.3 1368.7 1221.7C1372 1222 1375.3 1222.4 1378.6 1222.7C1381.9 1223 1385.2 1223.1 1388.5 1223.4C1391.8 1223.7 1395.3 1223.9 1398.4 1224.4C1401.5 1224.9 1404.2 1225.9 1407.1 1226.6C1410 1227.3 1412.7 1228.6 1415.8 1228.6C1418.9 1228.7 1422.4 1227.5 1425.7 1226.9C1429 1226.3 1432.5 1225.4 1435.6 1225.1C1438.7 1224.9 1441.4 1225.6 1444.3 1225.6C1447.2 1225.7 1450.3 1225.9 1453 1225.6C1455.7 1225.4 1457.9 1224.4 1460.4 1223.9C1462.9 1223.4 1465.6 1223 1467.9 1222.4C1470.1 1221.9 1472 1221.3 1474.1 1220.7C1476.1 1220.1 1478.4 1218.8 1480.3 1218.9C1482.1 1219.1 1483.6 1221.1 1485.2 1221.4C1486.9 1221.7 1488.1 1220.8 1490.2 1220.7C1492.2 1220.6 1496 1220.9 1497.6 1220.7C1499.3 1220.5 1498.9 1219.6 1500.1 1219.4C1501.3 1219.3 1503 1219.7 1505.1 1219.9C1507.1 1220.2 1510.6 1220.5 1512.5 1220.9C1514.4 1221.3 1515 1222.5 1516.2 1222.4C1517.5 1222.3 1518.7 1220.5 1519.9 1220.4C1521.2 1220.4 1522.4 1222 1523.7 1221.9C1524.9 1221.9 1525.9 1220.2 1527.4 1220.2C1528.8 1220.2 1530.9 1221.4 1532.3 1221.9C1533.8 1222.4 1534.6 1223.3 1536.1 1223.2C1537.5 1223 1539.4 1221.2 1541 1220.9C1542.7 1220.6 1544.3 1221.7 1546 1221.4C1547.6 1221.2 1549.3 1219.4 1550.9 1219.4C1552.6 1219.5 1554 1221.2 1555.9 1221.9C1557.8 1222.7 1560.4 1223.7 1562.1 1223.9C1563.8 1224.1 1564.6 1223 1565.8 1223.2C1567.1 1223.4 1567.7 1224.7 1569.5 1225.1C1571.4 1225.6 1574.7 1225.9 1577 1225.6C1579.3 1225.4 1581.7 1224.9 1583.2 1223.9C1584.6 1223 1585 1220.8 1585.7 1219.9C1586.4 1219.1 1586.4 1218.8 1587.4 1218.9C1588.4 1219.1 1590.7 1220.5 1591.9 1220.7C1593 1220.8 1593.5 1219.7 1594.3 1219.9C1595.2 1220.2 1596 1222.3 1596.8 1222.4C1597.7 1222.5 1598.3 1220.4 1599.3 1220.7C1600.3 1221 1601.8 1223.4 1603 1224.4C1604.3 1225.4 1605.7 1227 1606.7 1226.9C1607.8 1226.8 1608.3 1223.7 1609.2 1223.9C1610.1 1224.1 1611.2 1226.9 1612.2 1228.1C1613.2 1229.4 1614.4 1231.2 1615.4 1231.3C1616.5 1231.5 1617.6 1229 1618.7 1228.9C1619.7 1228.7 1620.5 1230.5 1621.6 1230.6C1622.7 1230.7 1624.1 1229.2 1625.3 1229.4C1626.6 1229.6 1628 1231.6 1629.1 1231.8C1630.1 1232.1 1630.7 1230.3 1631.5 1230.6C1632.4 1230.9 1633.1 1233.7 1634 1233.8C1634.9 1234 1636 1231.8 1637 1231.3C1638 1230.9 1639.1 1230.2 1640.2 1230.9C1641.4 1231.6 1642.5 1234.4 1643.9 1235.6C1645.4 1236.7 1647.3 1237 1648.9 1237.5C1650.6 1238.1 1652.5 1239.1 1653.9 1238.8C1655.2 1238.5 1656 1236.6 1656.8 1235.6C1657.7 1234.5 1657.9 1233 1658.8 1232.3C1659.8 1231.7 1661.3 1231.7 1662.5 1231.8C1663.8 1232 1664.8 1233.4 1666.3 1233.1C1667.7 1232.8 1669.6 1230.9 1671.2 1229.9C1672.9 1228.8 1674.7 1227.9 1676.2 1226.9C1677.6 1225.9 1678.7 1224.8 1679.9 1223.9C1681.2 1223 1682.4 1221.8 1683.6 1221.4C1684.9 1221.1 1686.3 1222 1687.4 1221.9C1688.4 1221.8 1688.8 1221.2 1689.8 1220.9C1690.9 1220.7 1692.3 1220.1 1693.6 1220.4C1694.8 1220.8 1696.2 1222.3 1697.3 1222.9C1698.3 1223.6 1699 1224.2 1700 1224.4C1701 1224.7 1702.3 1224.3 1703.6 1224.4C1704.8 1224.5 1706.2 1225.3 1707.4 1225C1708.7 1224.7 1710.1 1222.8 1711.3 1222.6C1712.5 1222.4 1713.7 1224.1 1714.9 1223.8C1716.1 1223.5 1717 1221.3 1718.5 1220.8C1719.9 1220.3 1722.2 1220.5 1723.8 1220.8C1725.4 1221.1 1726.9 1222.5 1728.3 1222.6C1729.7 1222.7 1730.9 1221.2 1732.1 1221.4C1733.4 1221.6 1734.4 1223.8 1735.7 1223.8C1737.1 1223.8 1738.7 1222.2 1740.2 1221.4C1741.7 1220.6 1742.9 1219.8 1744.6 1219C1746.4 1218.3 1748.9 1217.5 1750.6 1217C1752.3 1216.5 1753.6 1216 1755.1 1216.1C1756.5 1216.1 1758.3 1217.4 1759.5 1217.3C1760.8 1217.2 1761.3 1215.5 1762.5 1215.5C1763.7 1215.5 1765.5 1217.3 1767 1217.3C1768.5 1217.3 1770.1 1215.6 1771.4 1215.5C1772.8 1215.4 1773.8 1216.9 1775 1216.7C1776.2 1216.5 1777.5 1214.2 1778.9 1214.3C1780.3 1214.4 1781.6 1216.2 1783.3 1217.3C1785.1 1218.3 1787.3 1220.1 1789.3 1220.5C1791.3 1220.9 1793.3 1219.6 1795.2 1219.6C1797.2 1219.7 1798.7 1220.7 1801.2 1220.8C1803.7 1221 1807.6 1220.8 1810.1 1220.5C1812.6 1220.2 1814.1 1219.6 1816.1 1219C1818.1 1218.5 1819.5 1217.8 1822 1217.3C1824.5 1216.8 1828 1216.1 1831 1216.1C1833.9 1216.1 1836.9 1217.2 1839.9 1217.3C1842.9 1217.4 1844.8 1216.6 1848.8 1216.7C1852.8 1216.8 1858.7 1217.6 1863.7 1217.9C1868.7 1218.2 1873.6 1218.1 1878.6 1218.5C1883.5 1218.8 1890.1 1219.4 1893.5 1219.9C1896.8 1220.4 1897.1 1220.7 1898.8 1221.4C1900.5 1222.2 1902.3 1223 1903.9 1224.4C1905.5 1225.8 1906.7 1227.9 1908.3 1229.8C1910 1231.6 1912.1 1235.2 1913.7 1235.7C1915.3 1236.2 1916.5 1233.9 1917.9 1232.7C1919.2 1231.6 1920.4 1230.2 1921.7 1228.9C1923 1227.6 1924.4 1225.8 1925.6 1225C1926.8 1224.2 1928.1 1223.8 1929.2 1223.8C1930.3 1223.8 1931.2 1224.6 1932.1 1225C1933.1 1225.4 1934.1 1226.3 1935.1 1226.5C1936.1 1226.6 1937 1226 1938.1 1225.9C1939.2 1225.8 1940.6 1225.4 1941.7 1225.9C1942.8 1226.4 1943.5 1227.1 1944.6 1228.9C1945.8 1230.6 1947.2 1233.1 1948.5 1236.3C1949.8 1239.5 1951.1 1243.8 1952.4 1248.2C1953.6 1252.7 1954.9 1256.9 1956 1263.1C1957 1269.3 1957.9 1277 1958.9 1285.4C1959.9 1293.8 1961.1 1305.3 1961.9 1313.7C1962.7 1322.1 1963.3 1328.6 1964 1336C1964.6 1343.5 1965.1 1349.7 1965.8 1358.3C1966.4 1367 1967.5 1383.2 1967.9 1388.1C1968.2 1393 1967.4 1381.3 1968 1387.5C1968.5 1393.6 1970.4 1415.8 1971.2 1425C1972 1434.1 1972.5 1437.9 1973 1442.4C1973.5 1447 1973.7 1450 1974.2 1452.4C1974.7 1454.9 1975.2 1456 1975.7 1456.9C1976.2 1457.8 1976.9 1458 1977.5 1457.9C1978 1457.9 1978.5 1457.4 1979 1456.7C1979.5 1456 1980 1454.9 1980.4 1453.7C1980.9 1452.5 1981.3 1450.7 1981.7 1449.4C1982.1 1448.2 1982.5 1447 1982.9 1446.2C1983.4 1445.4 1983.9 1444.7 1984.4 1444.4C1985 1444.1 1985.6 1444.1 1986.2 1444.4C1986.8 1444.7 1987.3 1445.3 1987.9 1446.2C1988.6 1447.1 1989.2 1448.1 1989.9 1449.9C1990.7 1451.8 1991.6 1454.5 1992.4 1457.4C1993.3 1460.3 1994.1 1463.8 1994.9 1467.4C1995.8 1471.1 1996.6 1475.3 1997.4 1479.4C1998.3 1483.6 1999 1487.5 1999.9 1492.4C2000.9 1497.3 2001.9 1503.2 2002.9 1508.7C2004 1514.1 2005.2 1519.7 2006.2 1524.9C2007.1 1530.1 2007.8 1534.5 2008.7 1539.9C2009.5 1545.3 2010.2 1550.5 2011.2 1557.4C2012.1 1564.2 2013.4 1573.2 2014.4 1581.1C2015.5 1589 2016.4 1597.1 2017.4 1604.8C2018.5 1612.6 2019.6 1620.3 2020.7 1627.8C2021.7 1635.3 2022.6 1642.9 2023.7 1649.8C2024.7 1656.7 2025.9 1663.1 2026.9 1669.3C2028 1675.5 2028.9 1681.6 2029.9 1687.3C2031 1693 2032.1 1698.5 2033.2 1703.5C2034.2 1708.5 2035.4 1713.8 2036.2 1717.3C2037 1720.7 2037.4 1722.2 2037.9 1724.3C2038.5 1726.3 2038.9 1728.3 2039.4 1729.8C2039.9 1731.3 2040.4 1732.4 2040.9 1733.3C2041.4 1734.1 2041.9 1734.8 2042.4 1734.8C2043 1734.7 2043.5 1734 2044.2 1732.8C2044.8 1731.5 2045.5 1729.8 2046.2 1727.3C2046.8 1724.7 2047.3 1721 2047.9 1717.3C2048.5 1713.5 2049.3 1708.9 2049.9 1704.8C2050.5 1700.6 2050.9 1696.5 2051.4 1692.3C2051.9 1688.1 2052.5 1683 2052.9 1679.8C2053.3 1676.5 2053.6 1674.7 2053.9 1672.8C2054.2 1670.9 2054.5 1669.6 2054.9 1668.6C2055.3 1667.5 2055.9 1667 2056.4 1666.6C2056.9 1666.1 2057.4 1665.9 2057.9 1666.1C2058.4 1666.2 2058.9 1666.7 2059.4 1667.3C2059.9 1667.9 2060.6 1669.3 2061.1 1669.8C2061.6 1670.3 2062 1670.5 2062.4 1670.5C2062.8 1670.5 2063.2 1670.5 2063.6 1669.8C2064.1 1669.1 2064.5 1667.7 2064.9 1666.1C2065.3 1664.4 2065.6 1662.7 2066.1 1659.8C2066.6 1656.9 2067.3 1652.7 2067.9 1648.6C2068.5 1644.4 2069.2 1640.2 2069.9 1634.8C2070.6 1629.4 2071.3 1621.9 2071.9 1616.1C2072.5 1610.3 2073.1 1604.3 2073.6 1599.8C2074.2 1595.4 2074.6 1592.3 2075.1 1589.4C2075.6 1586.4 2076 1584.3 2076.6 1582.4C2077.3 1580.4 2078.1 1579.1 2078.9 1577.9C2079.6 1576.6 2080.4 1576.2 2081.1 1574.9C2081.8 1573.5 2082.5 1571.9 2083.1 1569.9C2083.8 1567.8 2084.3 1565.5 2084.9 1562.4C2085.4 1559.2 2085.9 1555.3 2086.4 1551.1C2086.9 1547 2087.4 1542.6 2087.9 1537.4C2088.4 1532.2 2088.8 1526.1 2089.4 1519.9C2089.9 1513.6 2090.5 1506.8 2091.1 1499.9C2091.7 1493 2092.3 1485.7 2092.9 1478.7C2093.5 1471.6 2094.1 1463.9 2094.9 1457.4C2095.6 1451 2096.5 1445.4 2097.4 1439.9C2098.2 1434.5 2098.8 1430.7 2099.9 1425C2100.9 1419.2 2102.4 1411.7 2103.6 1405.5C2104.9 1399.2 2106.1 1393.7 2107.4 1387.5C2108.7 1381.2 2110 1374.2 2111.4 1368C2112.7 1361.7 2112.5 1362.5 2115.4 1350C2118.2 1337.5 2125.4 1305.1 2128.6 1292.9C2131.8 1280.6 2132.5 1281.4 2134.5 1276.5C2136.5 1271.5 2138 1267.6 2140.5 1263.1C2143 1258.6 2146.4 1253.7 2149.4 1249.7C2152.4 1245.7 2155.4 1242.3 2158.3 1239.3C2161.3 1236.3 2164.3 1234.1 2167.3 1231.8C2170.2 1229.6 2173.5 1227.5 2176.2 1225.9C2178.9 1224.3 2181.2 1223.2 2183.6 1222C2186.1 1220.9 2188.8 1219.7 2191.1 1219C2193.3 1218.4 2195 1218 2197 1217.9C2199 1217.8 2201.6 1217.8 2203 1218.5C2204.4 1219.1 2204.6 1220.5 2205.4 1222C2206.1 1223.5 2206.6 1225.4 2207.4 1227.4C2208.3 1229.4 2209.4 1232.1 2210.4 1233.9C2211.4 1235.8 2212.4 1238.1 2213.4 1238.4C2214.4 1238.7 2215.4 1237.1 2216.4 1235.7C2217.4 1234.4 2218.3 1232.6 2219.3 1230.4C2220.4 1228.1 2221.7 1224.4 2222.9 1222C2224.2 1219.6 2225.4 1217.3 2226.8 1216.1C2228.2 1214.9 2229.8 1215.1 2231.2 1214.9C2232.7 1214.6 2233 1214.6 2235.7 1214.6C2238.4 1214.5 2243.7 1214.6 2247.6 1214.6C2251.6 1214.6 2257.5 1214.6 2259.5 1214.6"/>
</g>
<g>
<line x1="606.5" y1="428.2" x2="602.1" y2="272.7" stroke="#000" stroke-width="2.6" stroke-linecap="round"/><polygon points="601,232.7 612.7,274.4 591.7,275" fill="#000"/>
<line x1="667.5" y1="981.2" x2="617.2" y2="832" stroke="#000" stroke-width="2.6" stroke-linecap="round"/><polygon points="604.4,794.1 627.8,830.5 607.9,837.3" fill="#000"/>
<line x1="519.5" y1="1462.1" x2="574.3" y2="1297.4" stroke="#000" stroke-width="2.6" stroke-linecap="round"/><polygon points="586.9,1259.4 583.6,1302.6 563.7,1295.9" fill="#000"/>
<line x1="1843.5" y1="457.1" x2="1920.8" y2="445.6" stroke="#000" stroke-width="2.6" stroke-linecap="round"/><polygon points="1960.4,439.7 1920.4,456.3 1917.3,435.5" fill="#000"/>
<line x1="1623" y1="577.2" x2="1987.9" y2="698.9" stroke="#000" stroke-width="2.6" stroke-linecap="round"/><polygon points="2025.8,711.6 1982.6,708.3 1989.3,688.3" fill="#000"/>
<line x1="1839" y1="922.5" x2="1920" y2="938.9" stroke="#000" stroke-width="2.6" stroke-linecap="round"/><polygon points="1959.2,946.8 1916,948.8 1920.1,928.2" fill="#000"/>
<line x1="1617.2" y1="1089.2" x2="1990" y2="1189.2" stroke="#000" stroke-width="2.6" stroke-linecap="round"/><polygon points="2028.6,1199.6 1985.3,1198.9 1990.8,1178.6" fill="#000"/>
<line x1="1791.5" y1="1383.1" x2="1923.5" y2="1436.5" stroke="#000" stroke-width="2.6" stroke-linecap="round"/><polygon points="1960.6,1451.5 1917.7,1445.5 1925.6,1426" fill="#000"/>
<line x1="1613.3" y1="1568.5" x2="1987.8" y2="1714" stroke="#000" stroke-width="2.6" stroke-linecap="round"/><polygon points="2025.1,1728.5 1982.1,1723.1 1989.8,1703.5" fill="#000"/>
<line x1="2087.4" y1="549.8" x2="2092.4" y2="596" stroke="#000" stroke-width="2.5" stroke-linecap="round"/>
<line x1="2085.4" y1="1092.8" x2="2092.9" y2="1126.1" stroke="#000" stroke-width="2.5" stroke-linecap="round"/>
<line x1="2087.9" y1="1582.9" x2="2092.9" y2="1602.9" stroke="#000" stroke-width="2.5" stroke-linecap="round"/>
</g>
<g class="an">
<text transform="translate(451.9 484.9) scale(1 1.04)">3400 (-OH)</text>
<text transform="translate(512.7 1039.4) scale(1 1.04)">3400 (-OH)</text>
<text transform="translate(365.3 1520.7) scale(1 1.04)">3400 (-OH)</text>
<text transform="translate(1689.5 434.9) scale(1 1.04)">1100</text>
<text transform="translate(1689.5 513) scale(1 1.04)">(PO<tspan dy="16.6" font-size="41.6px">4</tspan><tspan dy="-16.6">)</tspan></text>
<text transform="translate(1403.4 559.6) scale(1 1.04)">1020</text>
<text transform="translate(1403.4 636.8) scale(1 1.04)">(C-O-C)</text>
<text transform="translate(2092.4 572.3) scale(1 1.04)">936</text>
<text transform="translate(2092.4 650.3) scale(1 1.04)">(PO<tspan dy="16.6" font-size="41.6px">4</tspan><tspan dy="-16.6">)</tspan></text>
<text transform="translate(1684.9 898.9) scale(1 1.04)">1100</text>
<text transform="translate(1684.9 977.3) scale(1 1.04)">(PO<tspan dy="16.6" font-size="41.6px">4</tspan><tspan dy="-16.6">)</tspan></text>
<text transform="translate(1398.4 998) scale(1 1.04)">1020</text>
<text transform="translate(1398.4 1075.7) scale(1 1.04)">(C-O-C)</text>
<text transform="translate(2093.3 1102.8) scale(1 1.04)">936</text>
<text transform="translate(2093.3 1180.7) scale(1 1.04)">(PO<tspan dy="16.6" font-size="41.6px">4</tspan><tspan dy="-16.6">)</tspan></text>
<text transform="translate(1637.8 1360.1) scale(1 1.04)">1100</text>
<text transform="translate(1637.8 1437.6) scale(1 1.04)">(PO<tspan dy="16.6" font-size="41.6px">4</tspan><tspan dy="-16.6">)</tspan></text>
<text transform="translate(1393.9 1552.5) scale(1 1.04)">1020</text>
<text transform="translate(1394.4 1632.3) scale(1 1.04)">(C-O-C)</text>
<text transform="translate(2092.9 1578.8) scale(1 1.04)">936</text>
<text transform="translate(2093.3 1657.3) scale(1 1.04)">(PO<tspan dy="16.6" font-size="41.6px">4</tspan><tspan dy="-16.6">)</tspan></text>
</g>
<g class="tk">
<text transform="translate(213.4 1899.6) scale(1 1.04)">4000</text>
<text transform="translate(518.9 1899.6) scale(1 1.04)">3500</text>
<text transform="translate(824.4 1899.6) scale(1 1.04)">3000</text>
<text transform="translate(1129.9 1899.6) scale(1 1.04)">2500</text>
<text transform="translate(1435.4 1899.6) scale(1 1.04)">2000</text>
<text transform="translate(1740.9 1899.6) scale(1 1.04)">1500</text>
<text transform="translate(2046.4 1899.6) scale(1 1.04)">1000</text>
</g>
<text transform="translate(892.9 2057.5) scale(1 1.012)" font-size="70.05px">Wavenumber (cm<tspan dy="-35.6" dx="1.5" font-size="70px">−1</tspan><tspan dy="35.6" dx="3">)</tspan></text>
<text transform="translate(81.5 1265.6) rotate(-90) scale(1 1.012)" font-size="70.5px">Transmittance (A.U)</text>
<rect x="889" y="24.8" width="793.4" height="99" fill="#fff" stroke="#000" stroke-width="2.4"/>
<g stroke-width="7" stroke-linecap="round">
<line x1="899" y1="75" x2="1055" y2="75" stroke="#000"/>
<line x1="1157.2" y1="75" x2="1313" y2="75" stroke="#f00"/>
<line x1="1415.2" y1="75" x2="1571.3" y2="75" stroke="#00f"/>
</g>
<g class="lg">
<text transform="translate(1074.8 99) scale(1 1.045)">F1</text>
<text transform="translate(1332.7 99) scale(1 1.045)">F2</text>
<text transform="translate(1591.7 99) scale(1 1.045)">F3</text>
</g>
</svg>
</body>
</html>
